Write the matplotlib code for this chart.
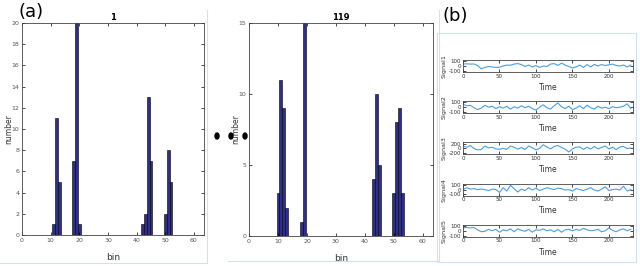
import matplotlib
matplotlib.use("Agg")
import matplotlib.pyplot as plt
from matplotlib.patches import Ellipse
from matplotlib.lines import Line2D

plt.rcParams["axes.unicode_minus"] = False

# histogram data: bin index -> count
bins_1 = [11, 12, 13, 18, 19, 20, 42, 43, 44, 45, 50, 51, 52]
counts_1 = [1, 11, 5, 7, 20, 1, 1, 2, 13, 7, 2, 8, 5]
bins_119 = [10, 11, 12, 13, 18, 19, 43, 44, 45, 50, 51, 52, 53]
counts_119 = [3, 11, 9, 2, 1, 15, 4, 10, 5, 3, 8, 9, 3]

# signals sampled every 5 time units
time = [0, 5, 10, 15, 20, 25, 30, 35, 40, 45, 50, 55, 60, 65, 70, 75, 80, 85,
        90, 95, 100, 105, 110, 115, 120, 125, 130, 135, 140, 145, 150, 155,
        160, 165, 170, 175, 180, 185, 190, 195, 200, 205, 210, 215, 220, 225, 230]
signal1 = [40, 45, 40, 42, 10, -60, -30, -10, -20, -30, -25, 0, 20, 15, 40, 50,
           30, -10, 20, -20, 10, -30, 0, -10, 40, 50, 10, 60, 20, -10, -40, -20,
           20, -30, 30, -20, 35, 0, 30, 10, 25, 40, 10, 0, 20, -20, 20]
signal2 = [60, 30, 40, -10, -50, -20, 40, 0, 20, -30, 10, -20, 20, -40, 10, -20,
           30, -10, 20, -30, -60, 0, 50, -10, -40, 30, 90, 10, -30, 20, -50, -20,
           30, -30, 40, -10, -40, 20, -20, 0, -30, 10, -10, 0, 20, 70, -30]
signal3 = [100, 50, 120, 0, -60, -50, 100, 20, 50, -20, -40, 0, -40, 100, 50, -30,
           40, -50, 100, 30, -60, 0, 150, 60, -20, 80, 120, 40, -30, -150, -20, 50,
           60, -40, 50, -30, 80, -20, 40, 100, -20, 50, -50, 60, 80, -10, 20]
signal4 = [0, 40, 10, 20, 0, 10, 0, -20, 10, 0, -60, 40, -30, 90, 20, -50,
           10, -20, 40, -10, 30, -20, 10, 40, 20, 0, 30, 20, -10, 0, -30, 20,
           0, -20, 10, 40, -10, -30, 10, 60, -20, 0, 10, -10, 70, -30, 0]
signal5 = [60, 70, 60, 70, 20, -20, -10, 30, 0, 30, -30, 20, 0, 40, -20, 40,
           10, -10, 30, -30, 20, 10, 40, 0, 20, -20, 30, -30, 20, 30, 0, 30,
           10, 50, 20, 0, 10, 30, -20, 0, 60, 10, -20, 20, 40, 0, 30]
signals = [signal1, signal2, signal3, signal4, signal5]
signal_names = ["Signal1", "Signal2", "Signal3", "Signal4", "Signal5"]
signal_ticks = [[-100, 0, 100], [-100, 0, 100], [-200, 0, 200],
                [-100, 0, 100], [-100, 0, 100]]
signal_lims = [125, 125, 250, 125, 125]

W, H = 640, 266
fig = plt.figure(figsize=(W / 100, H / 100), dpi=100)


def box(left, top, right, bottom):
    # pixel box -> figure fraction rectangle
    return [left / W, 1 - bottom / H, (right - left) / W, (bottom - top) / H]


def style(ax, size=4.5, pad=2):
    ax.tick_params(direction="in", top=True, right=True, length=2, width=0.5,
                   labelsize=size, labelcolor="#555555", pad=pad)
    for s in ax.spines.values():
        s.set_linewidth(0.6)
        s.set_color("#444444")


# panel (a) histograms
hists = [(bins_1, counts_1, "1", 20, range(0, 21, 2), box(22, 23, 204, 235)),
         (bins_119, counts_119, "119", 15, range(0, 16, 5), box(249, 23, 433, 236))]
for b, c, title, ymax, yt, pos in hists:
    ax = fig.add_axes(pos)
    ax.bar(b, c, width=1.0, color="#2E2E8C", edgecolor="black", linewidth=0.4)
    ax.set_xlim(0, 63.5)
    ax.set_ylim(0, ymax)
    ax.set_xticks(range(0, 61, 10))
    ax.set_yticks(list(yt))
    style(ax)
    ax.set_title(title, fontsize=6, fontweight="bold", pad=2)
    ax.set_xlabel("bin", fontsize=6.5, color="#333333")
    ax.xaxis.set_label_coords(0.5, -0.085)
    ax.set_ylabel("number", fontsize=5.5, color="#333333")
    ax.yaxis.set_label_coords(-0.05, 0.5)

fig.text(18 / W, 1 - 12 / H, "(a)", fontsize=13, va="center", ha="left")
fig.text(443 / W, 1 - 16 / H, "(b)", fontsize=13, va="center", ha="left")

# ellipsis dots between the histograms
for x in [217, 231, 245]:
    fig.add_artist(Ellipse((x / W, 1 - 136 / H), 4 / W, 6 / H,
                           transform=fig.transFigure, color="black"))

# panel (b) signals
for i, (sig, name) in enumerate(zip(signals, signal_names)):
    top = 60 + 41.2 * i
    ax = fig.add_axes(box(463, top, 633, top + 12))
    ax.plot(time, sig, color="#4A9FE0", linewidth=0.8)
    ax.set_xlim(0, 233)
    ax.set_ylim(-signal_lims[i], signal_lims[i])
    ax.set_yticks(signal_ticks[i])
    ax.set_xticks([0, 50, 100, 150, 200])
    style(ax, size=4, pad=1.2)
    ax.tick_params(labelcolor="#333333")
    ax.set_xlabel("Time", fontsize=5.5, color="#333333", labelpad=3)
    ax.set_ylabel(name, fontsize=4.6, color="#333333")
    ax.yaxis.set_label_coords(-0.094, 0.5)

# faint frames around the sub-images
frame = "#CFE1F2"
for xs, ys in [([207, 207], [10, 263]), ([0, 207], [263, 263]),
               ([439, 439], [10, 261]), ([228, 439], [261, 261]),
               ([437, 437], [33, 262]), ([437, 636], [262, 262]),
               ([636, 636], [33, 262]), ([437, 636], [33, 33])]:
    fig.add_artist(Line2D([x / W for x in xs], [1 - y / H for y in ys],
                          color=frame, linewidth=0.8))

fig.savefig("out.png", dpi=100)
